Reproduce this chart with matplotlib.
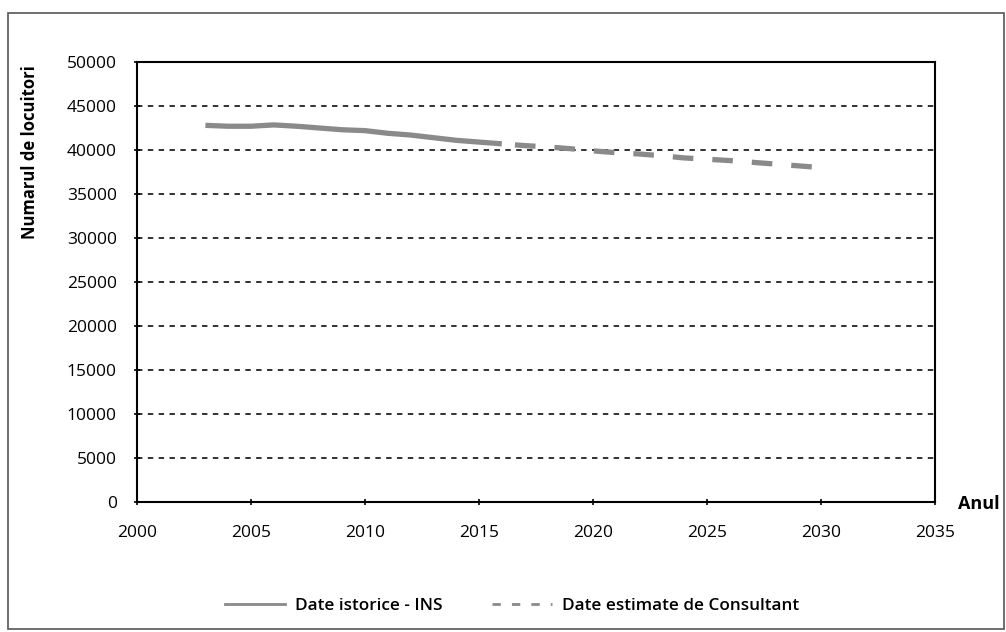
import matplotlib
matplotlib.use("Agg")
import matplotlib.pyplot as plt
from matplotlib.patches import Rectangle
from matplotlib.lines import Line2D

plt.rcParams['font.family'] = ['Open Sans', 'DejaVu Sans']

hist_years = [2003, 2004, 2005, 2006, 2007, 2008, 2009, 2010, 2011, 2012, 2013, 2014, 2015, 2016]
hist_values = [42800, 42700, 42700, 42850, 42700, 42500, 42300, 42200, 41900, 41700, 41400, 41100, 40900, 40700]

est_years = [2016, 2017, 2018, 2019, 2020, 2021, 2022, 2023, 2024, 2025, 2026, 2027, 2028, 2029, 2030]
est_values = [40700, 40500, 40350, 40150, 39900, 39700, 39550, 39350, 39100, 38950, 38800, 38600, 38400, 38200, 38000]

x_ticks = [2000, 2005, 2010, 2015, 2020, 2025, 2030, 2035]
y_ticks = [0, 5000, 10000, 15000, 20000, 25000, 30000, 35000, 40000, 45000, 50000]

fig = plt.figure(figsize=(10.06, 6.32), dpi=100)
ax = fig.add_axes([0.1362, 0.2057, 0.7932, 0.6962])

for y in y_ticks[1:-1]:
    ax.axhline(y, color='#222222', lw=1.3, ls=(0, (3, 3)), zorder=1)

line_col = '#8a8a8a'
ax.plot(hist_years, hist_values, color=line_col, lw=3.8, solid_capstyle='butt', zorder=3)
ax.plot(est_years, est_values, color=line_col, lw=3.8, ls=(5.0, (3.9, 3.6)),
        dash_capstyle='butt', zorder=3)

ax.set_xlim(2000, 2035)
ax.set_ylim(0, 50000)
ax.set_xticks(x_ticks)
ax.set_yticks(y_ticks)
ax.set_xticklabels([str(v) for v in x_ticks])
ax.set_yticklabels([str(v) for v in y_ticks])
ax.tick_params(axis='both', labelsize=12.5, color='black', width=1.2, length=5, direction='inout')
ax.tick_params(axis='x', pad=14)
ax.tick_params(axis='y', pad=12)
for s in ax.spines.values():
    s.set_linewidth(1.5)
    s.set_color('black')

fig.text(30 / 1006, 1 - 152 / 632, 'Numarul de locuitori', rotation=90, fontsize=12,
         fontweight='bold', ha='center', va='center')
fig.text(958 / 1006, 1 - 504 / 632, 'Anul', fontsize=13, fontweight='bold',
         ha='left', va='center')

handles = [Line2D([], [], color=line_col, lw=2.0),
           Line2D([], [], color=line_col, lw=2.0, ls=(0, (3, 4)))]
labels = ['Date istorice - INS', 'Date estimate de Consultant']
fig.legend(handles, labels, loc='center', bbox_to_anchor=(0.509, 0.041), ncol=2,
           frameon=False, handlelength=3.5, columnspacing=2.9, handletextpad=0.6,
           prop={'weight': 'semibold', 'size': 12.3})

fig.patches.append(Rectangle((0.008, 0.005), 0.99, 0.975, transform=fig.transFigure,
                             fill=False, edgecolor='#555555', lw=1.2))

fig.savefig('out.png', dpi=100)
